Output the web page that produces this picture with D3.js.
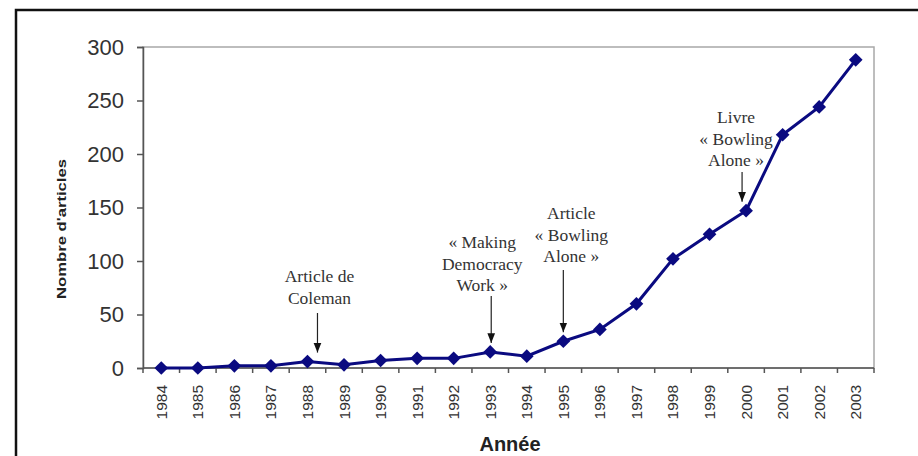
<!DOCTYPE html>
<html>
<head>
<meta charset="utf-8">
<script src="https://cdn.jsdelivr.net/npm/d3@7"></script>
<style>
  html, body { margin: 0; padding: 0; background: #fff; }
  svg { display: block; }
</style>
</head>
<body>
<svg id="chart" width="918" height="456"></svg>
<script>
// Yearly number of articles
const years = ["1984","1985","1986","1987","1988","1989","1990","1991","1992","1993",
               "1994","1995","1996","1997","1998","1999","2000","2001","2002","2003"];
const articles = [0, 0, 2, 2, 6, 3, 7, 9, 9, 15, 11, 25, 36, 60, 102, 125, 147, 218, 244, 288];
const yTicks = [0, 50, 100, 150, 200, 250, 300];

// Milestones: year and text lines
const noteYears = ["1988", "1993", "1995", "2000"];
const noteTexts = [
  ["Article de", "Coleman"],
  ["« Making", "Democracy", "Work »"],
  ["Article", "« Bowling", "Alone »"],
  ["Livre", "« Bowling", "Alone »"]
];

// placement of each milestone note (offsets in px relative to the band centre,
// first text baseline, arrow start)
const noteLayout = [
  { dx: 10,  tdx: 12, base: 282, a0: 313 },
  { dx: 1,   tdx: -8, base: 248, a0: 296 },
  { dx: 0,   tdx: 8,  base: 219, a0: 270 },
  { dx: -4,  tdx: -10, base: 123, a0: 172 }
];

const svg = d3.select("#chart");
const m = { left: 143, top: 47, right: 874, bottom: 368 };
const sans = "Liberation Sans, Arial, sans-serif";
const serif = "Liberation Serif, Times New Roman, serif";

// outer frame
svg.append("rect")
  .attr("x", 16).attr("y", 10).attr("width", 940).attr("height", 480)
  .attr("fill", "none").attr("stroke", "#111").attr("stroke-width", 2.5);

const x = d3.scaleBand().domain(years).range([m.left, m.right]);
const y = d3.scaleLinear().domain([0, 300]).range([m.bottom, m.top]);
const cx = d => x(d) + x.bandwidth() / 2;

// plot area border
svg.append("rect")
  .attr("x", m.left).attr("y", m.top)
  .attr("width", m.right - m.left).attr("height", m.bottom - m.top)
  .attr("fill", "none").attr("stroke", "#a8a8a8").attr("stroke-width", 1.5);

// y axis
const yAxis = svg.append("g")
  .attr("transform", `translate(${m.left},0)`)
  .call(d3.axisLeft(y).tickValues(yTicks).tickSize(6).tickPadding(13));
yAxis.select(".domain").attr("stroke", "#555").attr("stroke-width", 1.5);
yAxis.selectAll(".tick line").attr("stroke", "#555").attr("stroke-width", 1.5);
yAxis.selectAll(".tick text")
  .attr("font-family", sans)
  .attr("font-size", 22).attr("fill", "#333");

// x axis: ticks sit on band edges, labels on band centres
const edges = years.map(d => x(d)).concat([m.right]);
const xg = svg.append("g");
xg.append("line")
  .attr("x1", m.left).attr("x2", m.right).attr("y1", m.bottom).attr("y2", m.bottom)
  .attr("stroke", "#555").attr("stroke-width", 1.5);
xg.selectAll("line.tk").data(edges).join("line")
  .attr("class", "tk")
  .attr("x1", d => d).attr("x2", d => d)
  .attr("y1", m.bottom).attr("y2", m.bottom + 5)
  .attr("stroke", "#555").attr("stroke-width", 1.5);
xg.selectAll("text").data(years).join("text")
  .attr("transform", d => `translate(${cx(d) + 5.5},${m.bottom + 17}) rotate(-90)`)
  .attr("text-anchor", "end")
  .attr("font-family", sans)
  .attr("font-size", 15.5).attr("fill", "#333")
  .text(d => d);

// axis titles
svg.append("text")
  .attr("x", 510).attr("y", 451)
  .attr("text-anchor", "middle")
  .attr("font-family", sans)
  .attr("font-size", 20).attr("font-weight", "bold").attr("fill", "#222")
  .text("Année");
svg.append("text")
  .attr("transform", "translate(66,229) rotate(-90)")
  .attr("text-anchor", "middle")
  .attr("font-family", sans)
  .attr("font-size", 13.5).attr("font-weight", "bold").attr("fill", "#222")
  .attr("textLength", 140).attr("lengthAdjust", "spacingAndGlyphs")
  .text("Nombre d'articles");

// series line and diamond markers
const line = d3.line().x((d, i) => cx(years[i])).y(d => y(d));
svg.append("path")
  .datum(articles)
  .attr("d", line)
  .attr("fill", "none").attr("stroke", "#0a0a80").attr("stroke-width", 3);
svg.selectAll("path.pt").data(articles).join("path")
  .attr("class", "pt")
  .attr("transform", (d, i) => `translate(${cx(years[i])},${y(d)})`)
  .attr("d", d3.symbol().type(d3.symbolDiamond2).size(120))
  .attr("fill", "#0a0a80");

// milestone annotations
svg.append("defs").append("marker")
  .attr("id", "head").attr("viewBox", "0 0 10 10")
  .attr("refX", 10).attr("refY", 5)
  .attr("markerWidth", 8).attr("markerHeight", 8)
  .attr("orient", "auto")
  .append("path").attr("d", "M0,1 L10,5 L0,9 Z").attr("fill", "#111");

const noteG = svg.append("g");
noteYears.forEach((yr, k) => {
  const L = noteLayout[k];
  const i = years.indexOf(yr);
  const ax = cx(yr) + L.dx;
  const tipY = y(articles[i]) - 9;
  const lh = 21.5;
  noteG.append("text")
    .attr("font-family", serif)
    .attr("font-size", 17.5).attr("fill", "#333")
    .attr("text-anchor", "middle")
    .selectAll("tspan").data(noteTexts[k]).join("tspan")
    .attr("x", cx(yr) + L.tdx)
    .attr("y", (d, j) => L.base + j * lh)
    .text(d => d);
  noteG.append("line")
    .attr("x1", ax).attr("x2", ax)
    .attr("y1", L.a0).attr("y2", tipY)
    .attr("stroke", "#222").attr("stroke-width", 1.2)
    .attr("marker-end", "url(#head)");
});
</script>
</body>
</html>
